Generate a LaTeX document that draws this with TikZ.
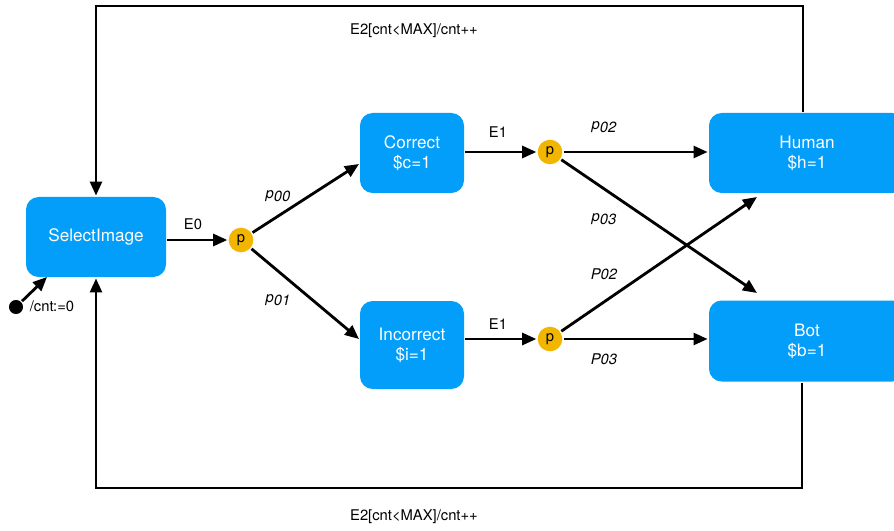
\documentclass[tikz,border=0pt]{standalone}
\usepackage{fontspec}
\setmainfont{TeX Gyre Heros}
\usetikzlibrary{arrows.meta}
\definecolor{stblue}{RGB}{3,158,250}
\definecolor{psyellow}{RGB}{242,182,0}
\newcommand{\prob}[1]{\textit{p}\raisebox{-.45ex}{\textit{#1}}}

\begin{document}
\begin{tikzpicture}[x=0.025cm, y=-0.025cm, line width=2pt,
    st/.style={rectangle, rounded corners=9pt, fill=stblue, text=white, align=center,
      font=\fontsize{12.2}{14}\selectfont, inner sep=0pt},
    ps/.style={circle, fill=psyellow, minimum size=17.5pt, inner sep=0pt, font=\fontsize{10.5}{12}\selectfont},
    lbl/.style={font=\fontsize{10.5}{12}\selectfont},
    arr/.style={-{Triangle[length=10pt, width=8.5pt]}}]
    \useasboundingbox (0,0) rectangle (894,531);

    \node[st, minimum width=140*0.025cm, minimum height=80*0.025cm] (sel) at (96,237) {SelectImage};
    \node[st, minimum width=104*0.025cm, minimum height=80*0.025cm] (cor) at (412,153) {Correct\\\$c=1};
    \node[st, minimum width=104*0.025cm, minimum height=88*0.025cm] (inc) at (412,345) {Incorrect\\\$i=1};
    \node[st, minimum width=196*0.025cm, minimum height=80*0.025cm] (hum) at (807,153) {Human\\\$h=1};
    \node[st, minimum width=196*0.025cm, minimum height=81*0.025cm] (bot) at (807,341) {Bot\\\$b=1};

    \node[ps] (p0) at (241,240) {p};
    \node[ps] (p1) at (550,152) {p};
    \node[ps] (p2) at (550,339) {p};

    \node[circle, fill=black, minimum size=10pt, inner sep=0pt] (init) at (16,307) {};
    \coordinate (ientry) at (47,277);
    \coordinate (ttop) at (803,6);
    \coordinate (bbot) at (802,488);
    \coordinate (hin) at (757,197);
    \coordinate (bin) at (757,293);
    \coordinate (cin) at (359,164);
    \coordinate (iin) at (359,339);

    \draw[arr] (init) -- (ientry);
    \draw[arr] (sel.east |- p0) -- (p0);
    \draw[arr] (p0) -- (cin);
    \draw[arr] (p0) -- (iin);
    \draw[arr] (cor.east |- p1) -- (p1);
    \draw[arr] (inc.east |- p2) -- (p2);
    \draw[arr] (p1) -- (hum.west |- p1);
    \draw[arr] (p1) -- (bin);
    \draw[arr] (p2) -- (hin);
    \draw[arr] (p2) -- (bot.west |- p2);
    \draw[arr] (hum.north -| ttop) -- (ttop) -| (sel.north);
    \draw[arr] (bot.south -| bbot) -- (bbot) -| (sel.south);

    \node[lbl] (linit) at (52,306) {/cnt:=0};
    \node[lbl] (le0) at (193,224) {E0};
    \node[lbl] (lp00) at (278,196) {\prob{00}};
    \node[lbl] (lp01) at (278,300) {\prob{01}};
    \node[lbl] (le1a) at (498,132) {E1};
    \node[lbl] (le1b) at (498,324) {E1};
    \node[lbl] (lp02) at (604,127) {\prob{02}};
    \node[lbl] (lp03) at (604,219) {\prob{03}};
    \node[lbl] (lP02) at (604,274) {\textit{P02}};
    \node[lbl] (lP03) at (604,359) {\textit{P03}};
    \node[lbl] (ltop) at (414,31) {E2[cnt\textless MAX]/cnt++};
    \node[lbl] (lbot) at (414,517) {E2[cnt\textless MAX]/cnt++};
  \end{tikzpicture}
\end{document}
